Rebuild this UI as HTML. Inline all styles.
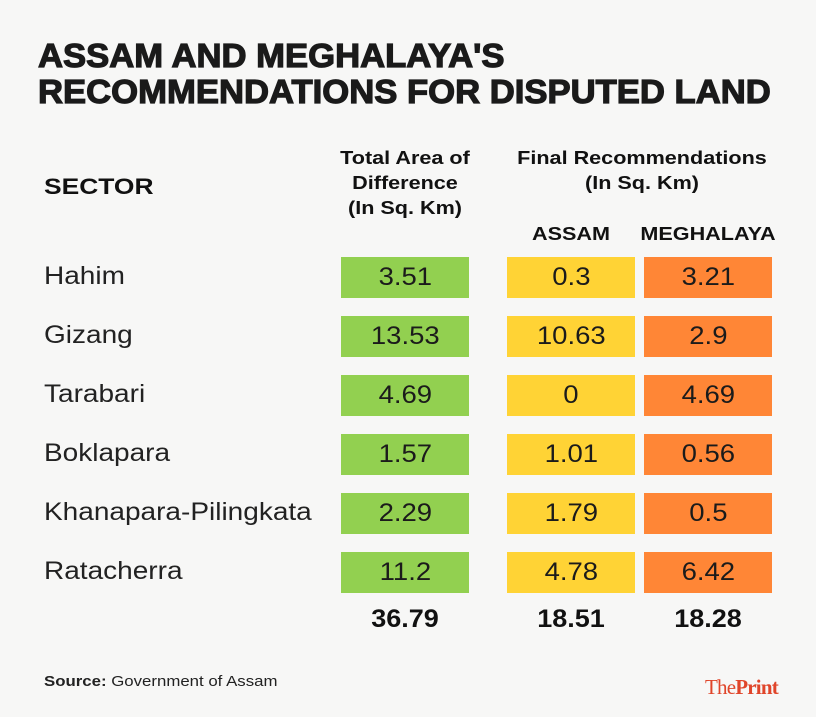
<!DOCTYPE html>
<html><head><meta charset="utf-8">
<style>
body{margin:0;width:816px;height:717px;background:#f7f7f6;font-family:"Liberation Sans",sans-serif;position:relative;overflow:hidden;color:#111}
.a{position:absolute;white-space:nowrap}
.title{left:38px;font-weight:bold;font-size:33px;transform-origin:left top;color:#1a1a1a;-webkit-text-stroke:1.2px #1a1a1a}
.hd{font-weight:bold;font-size:18px;text-align:center;line-height:25px;transform:scaleX(1.2);transform-origin:center top}
.lbl{left:44px;font-size:25px;color:#222;transform:scaleX(1.12);transform-origin:left top}
.cell{height:41px;width:128px;text-align:center;line-height:41px;font-size:25px;color:#1b1b1b}
.cell span{display:inline-block;transform:scaleX(1.1)}
.tot{font-weight:bold;font-size:25px;text-align:center;width:128px;transform:scaleX(1.08)}
</style></head><body>
<div class="a title" style="top:37px;transform:scaleX(1.05)">ASSAM AND MEGHALAYA'S</div>
<div class="a title" style="top:73px;transform:scaleX(1.05)">RECOMMENDATIONS FOR DISPUTED LAND</div>
<div class="a" style="left:44px;top:174px;font-weight:bold;font-size:22px;transform:scaleX(1.2);transform-origin:left top">SECTOR</div>
<div class="a hd" style="left:325px;width:160px;top:146px">Total Area of<br>Difference<br>(In Sq. Km)</div>
<div class="a hd" style="left:502px;width:280px;top:146px">Final Recommendations<br>(In Sq. Km)</div>
<div class="a hd" style="left:507px;width:128px;top:222px">ASSAM</div>
<div class="a hd" style="left:644px;width:128px;top:222px">MEGHALAYA</div>
<div id="rows"></div>
<div class="a" style="left:44px;top:673px;font-size:15px;color:#222;transform:scaleX(1.12);transform-origin:left top"><b>Source:</b> Government of Assam</div>
<div class="a" style="left:705px;top:675px;font-family:'Liberation Serif',serif;font-size:21px;color:#e0452a;letter-spacing:-0.8px">The<b>Print</b></div>
<script>
const sectors=["Hahim","Gizang","Tarabari","Boklapara","Khanapara-Pilingkata","Ratacherra"];
const totalArea=["3.51","13.53","4.69","1.57","2.29","11.2"];
const assam=["0.3","10.63","0","1.01","1.79","4.78"];
const meghalaya=["3.21","2.9","4.69","0.56","0.5","6.42"];
const totals=["36.79","18.51","18.28"];
const cols=[{x:341,c:"#92d050",d:totalArea,n:"total-area"},{x:507,c:"#ffd335",d:assam,n:"assam"},{x:644,c:"#ff8636",d:meghalaya,n:"meghalaya"}];
const root=document.getElementById('rows');
sectors.forEach((s,i)=>{
  const y=257+i*59;
  const l=document.createElement('div');
  l.className='a lbl';l.style.top=(y+5)+'px';l.textContent=s;
  
  
  root.appendChild(l);
  cols.forEach(c=>{
    const e=document.createElement('div');
    e.className='a cell';e.style.left=c.x+'px';e.style.top=y+'px';e.style.background=c.c;
    const sp=document.createElement('span');sp.textContent=c.d[i];e.appendChild(sp);
    
    
    root.appendChild(e);
  });
});
totals.forEach((t,i)=>{
  const e=document.createElement('div');
  e.className='a tot';e.style.left=cols[i].x+'px';e.style.top='605px';e.textContent=t;
  
  
  root.appendChild(e);
});
</script>
</body></html>
